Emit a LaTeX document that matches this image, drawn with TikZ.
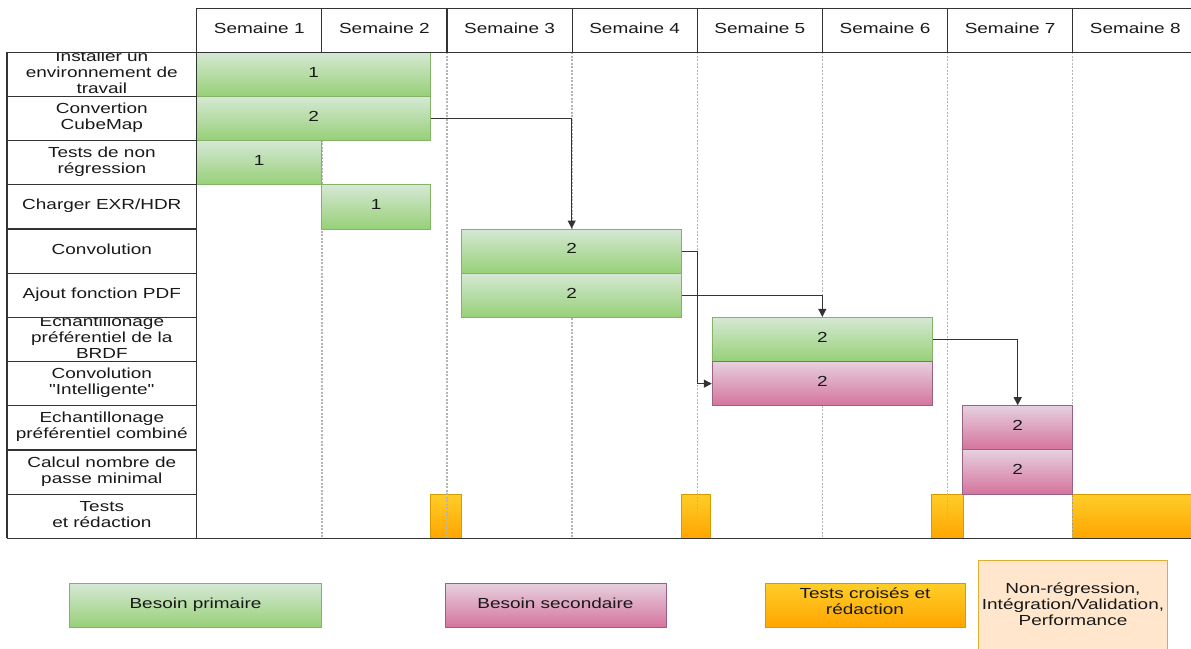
\documentclass[tikz,border=0pt]{standalone}
\usepackage{fontspec}
\setmainfont{Liberation Sans}[FakeStretch=1.30, Ligatures=TeXOff]
\usetikzlibrary{arrows.meta}

\definecolor{gtop}{HTML}{D5E8D4}
\definecolor{gbot}{HTML}{97D077}
\definecolor{gline}{HTML}{82B366}
\definecolor{ptop}{HTML}{E6D0DE}
\definecolor{pbot}{HTML}{D5739D}
\definecolor{pline}{HTML}{996185}
\definecolor{otop}{HTML}{FFCD28}
\definecolor{obot}{HTML}{FFA500}
\definecolor{oline}{HTML}{D79B00}
\definecolor{peach}{HTML}{FFE6CC}
\definecolor{gridc}{HTML}{333333}
\definecolor{dotc}{HTML}{B5B5B5}

\tikzset{
  every node/.style={font=\fontsize{14.6}{16}\selectfont, text=black!90},
  taskbar/.style={rectangle, inner sep=0pt, line width=1pt, text height=10.5pt, text depth=5pt},
  primbar/.style={taskbar, draw=gline, top color=gtop, bottom color=gbot},
  secbar/.style={taskbar, draw=pline, top color=ptop, bottom color=pbot},
  testbar/.style={taskbar, draw=oline, top color=otop, bottom color=obot},
  notebox/.style={rectangle, inner sep=0pt, line width=1pt, draw=oline!80, fill=peach},
  rowtext/.style={align=center, inner sep=0pt, text depth=4.4pt},
  gridline/.style={draw=gridc, line width=1.2pt},
  weekline/.style={draw=dotc, line width=1.4pt, dash pattern=on 2pt off 1.5pt},
  dep/.style={draw=gridc, line width=1.2pt, -{Triangle[length=8pt,width=8pt]}},
}

% bar spanning [x-left, x-right] on a given row of the schedule
\newcommand\taskbox[6]{%
  \pgfmathsetmacro\tbx{(#3+#4)/2}%
  \pgfmathsetmacro\tby{52.3+44.18*(#5-0.5)}%
  \pgfmathsetmacro\tbw{#4-#3}%
  \node[#1, minimum width=\tbw pt, minimum height=44.18pt] (#2) at (\tbx,\tby) {#6};%
}
% task name, clipped to its cell in the left column
% (#3 = height of the text block above the last baseline)
\newcommand\rowlabel[4]{%
  \begin{scope}
    \clip (7,{52.3+44.18*(#2-1)}) rectangle (196.7,{52.3+44.18*#2});
    \node[rowtext, text height=#3pt] (#1) at (101.85,{52.3+44.18*(#2-0.5)}) {#4};
  \end{scope}%
}

\begin{document}
\begin{tikzpicture}[x=1pt,y=-1pt]
\useasboundingbox (0,0) rectangle (1191,648);

% testing / writing slots (below the week separators)
\taskbox{testbar}{t1}{430.7}{461.7}{11}{}
\taskbox{testbar}{t2}{681.7}{710}{11}{}
\taskbox{testbar}{t3}{931.7}{963}{11}{}
\taskbox{testbar}{t4}{1072.7}{1200}{11}{}

% week separators
\foreach \k in {1,...,7}
  \draw[weekline] ({196.7+125.14*\k},52.3) -- ({196.7+125.14*\k},538.3);

% tasks
\taskbox{primbar}{b1}{196.7}{430.7}{1}{1}
\taskbox{primbar}{b2}{196.7}{430.7}{2}{2}
\taskbox{primbar}{b3}{196.7}{321.8}{3}{1}
\taskbox{primbar}{b4}{321.8}{430.7}{4}{1}
\taskbox{primbar}{b5}{461.7}{681.7}{5}{2}
\taskbox{primbar}{b6}{461.7}{681.7}{6}{2}
\taskbox{primbar}{b7}{712.3}{932.3}{7}{2}
\taskbox{secbar}{b8}{712.3}{932.3}{8}{2}
\taskbox{secbar}{b9}{962.7}{1072.7}{9}{2}
\taskbox{secbar}{b10}{962.7}{1072.7}{10}{2}

% dependencies
\draw[dep] (b2.east) -| (b5.north);
\draw[dep] (b5.east) -- ++(15,0) |- (b8.west);
\draw[dep] (b6.east) -| (b7.north);
\draw[dep] (b7.east) -| (b9.north);

% task names
\rowlabel{r1}{1}{42.5}{Installer un\\environnement de\\travail}
\rowlabel{r2}{2}{26.5}{Convertion\\CubeMap}
\rowlabel{r3}{3}{26.5}{Tests de non\\régression}
\rowlabel{r4}{4}{10.5}{Charger EXR/HDR}
\rowlabel{r5}{5}{10.5}{Convolution}
\rowlabel{r6}{6}{10.5}{Ajout fonction PDF}
\rowlabel{r7}{7}{42.5}{Echantillonage\\préférentiel de la\\BRDF}
\rowlabel{r8}{8}{26.5}{Convolution\\"Intelligente"}
\rowlabel{r9}{9}{26.5}{Echantillonage\\préférentiel combiné}
\rowlabel{r10}{10}{26.5}{Calcul nombre de\\passe minimal}
\rowlabel{r11}{11}{26.5}{Tests\\et rédaction}

% header
\foreach \k in {1,...,8}
  \node[text height=10.5pt, text depth=4.4pt, inner sep=0pt] (h\k) at ({196.7+125.14*(\k-0.5)},30.3) {Semaine \k};

% table lines
\draw[gridline] (196.7,8.3) -- (1191,8.3);
\draw[gridline] (7,52.3) -- (1191,52.3);
\draw[gridline] (7,538.3) -- (1191,538.3);
\draw[gridline] (7,52.3) -- (7,538.3);
\draw[gridline] (196.7,8.3) -- (196.7,538.3);
\foreach \k in {1,...,7}
  \draw[gridline] ({196.7+125.14*\k},8.3) -- ({196.7+125.14*\k},52.3);
\foreach \r in {1,...,10}
  \draw[gridline] (7,{52.3+44.18*\r}) -- (196.7,{52.3+44.18*\r});

% legend
\node[primbar, minimum width=251.8pt, minimum height=44pt] (l1) at (195.5,605.5) {Besoin primaire};
\node[secbar, minimum width=221pt, minimum height=44pt] (l2) at (555.5,605.5) {Besoin secondaire};
\node[testbar, align=center, text height=26.5pt, text depth=8pt, minimum width=200pt, minimum height=44pt] (l3) at (865,605.5) {Tests croisés et\\rédaction};
\node[notebox, minimum width=189.4pt, minimum height=100pt] (l4) at (1073,610.7) {};
\node[align=center, inner sep=0pt, text height=42.5pt, text depth=0pt] (l4t) at (1073,604.3) {Non-régression,\\Intégration/Validation,\\Performance};
\end{tikzpicture}
\end{document}
